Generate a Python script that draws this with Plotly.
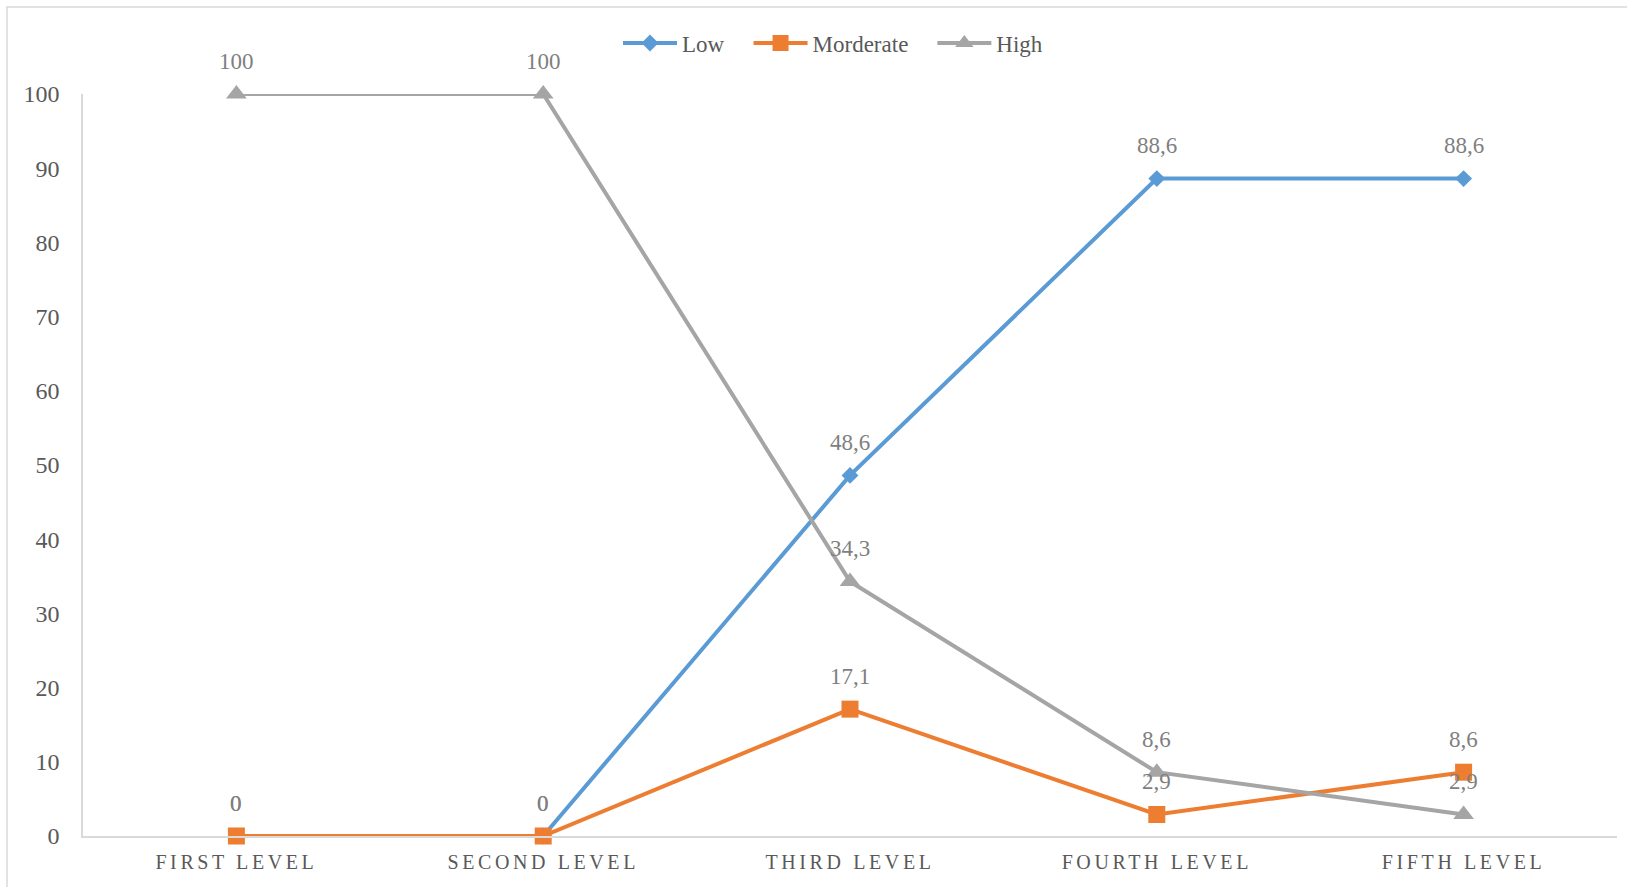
import plotly.graph_objects as go

categories = ["FIRST LEVEL", "SECOND LEVEL", "THIRD LEVEL", "FOURTH LEVEL", "FIFTH LEVEL"]
low = [0, 0, 48.6, 88.6, 88.6]
moderate = [0, 0, 17.1, 2.9, 8.6]
high = [100, 100, 34.3, 8.6, 2.9]
y_ticks = [0, 10, 20, 30, 40, 50, 60, 70, 80, 90, 100]

series = [
    ("Low", low, "#5B9BD5", "diamond", 13),
    ("Morderate", moderate, "#ED7D31", "square", 17),
    ("High", high, "#A5A5A5", "triangle-up", 18),
]

FONT = "Liberation Serif, Times New Roman, serif"

def fmt(v):
    if float(v).is_integer():
        return str(int(v))
    return f"{v:.1f}".replace(".", ",")

fig = go.Figure()
xs = list(range(len(categories)))
annotations = []
for name, vals, color, sym, msize in series:
    fig.add_trace(go.Scatter(
        x=xs, y=vals, name=name, mode="lines+markers",
        line=dict(color=color, width=4),
        marker=dict(symbol=sym, size=msize, color=color),
        cliponaxis=False,
    ))
    for xi, v in zip(xs, vals):
        annotations.append(dict(
            x=xi, y=v, text=fmt(v), showarrow=False, yshift=33,
            font=dict(family=FONT, size=23, color="#7F7F7F"),
        ))

L, R, T, B = 83, 10, 94, 51
W, H = 1627, 887
pw, ph = W - L - R, H - T - B

def px_x(px):
    return (px - L) / pw

def px_y(py):
    return (H - B - py) / ph

fig.update_layout(
    width=W, height=H,
    margin=dict(l=L, r=R, t=T, b=B),
    paper_bgcolor="white", plot_bgcolor="white",
    font=dict(family=FONT, color="#595959"),
    showlegend=True,
    legend=dict(
        orientation="h", x=px_x(599), y=px_y(43), xanchor="left", yanchor="middle",
        font=dict(family=FONT, size=23, color="#595959"),
        itemwidth=73, traceorder="normal",
    ),
    annotations=annotations,
    shapes=[dict(
        type="rect", xref="paper", yref="paper",
        x0=px_x(7), x1=px_x(1640), y0=px_y(900), y1=px_y(7),
        line=dict(color="#D9D9D9", width=1.5), fillcolor="rgba(0,0,0,0)", layer="below",
    )],
)

fig.update_xaxes(
    range=[-0.5, 4.5], tickvals=xs, ticktext=categories,
    showgrid=False, zeroline=False, showline=True, linecolor="#D9D9D9", linewidth=1.5,
    ticks="", tickfont=dict(family=FONT, size=20, color="#595959"),
    ticklabelstandoff=7,
)
fig.update_yaxes(
    range=[0, 100], tickvals=y_ticks,
    showgrid=False, zeroline=False, showline=True, linecolor="#D9D9D9", linewidth=1.5,
    ticks="", tickfont=dict(family=FONT, size=24, color="#595959"),
    ticklabelstandoff=17,
)

post = """
var gd = document.getElementById('{plot_id}');
function ls(){
  document.querySelectorAll('.xtick text').forEach(function(t){ t.style.letterSpacing = '3.6px'; });
  document.querySelectorAll('.legend .legendlines path').forEach(function(p){ p.setAttribute('d', 'M24,0h54'); });
  document.querySelectorAll('.legend .legendpoints path').forEach(function(p){ p.setAttribute('transform', 'translate(51,0)'); });
}
ls();
if (gd && gd.on) { gd.on('plotly_afterplot', ls); }
"""

fig.write_html("out.html", post_script=post)
